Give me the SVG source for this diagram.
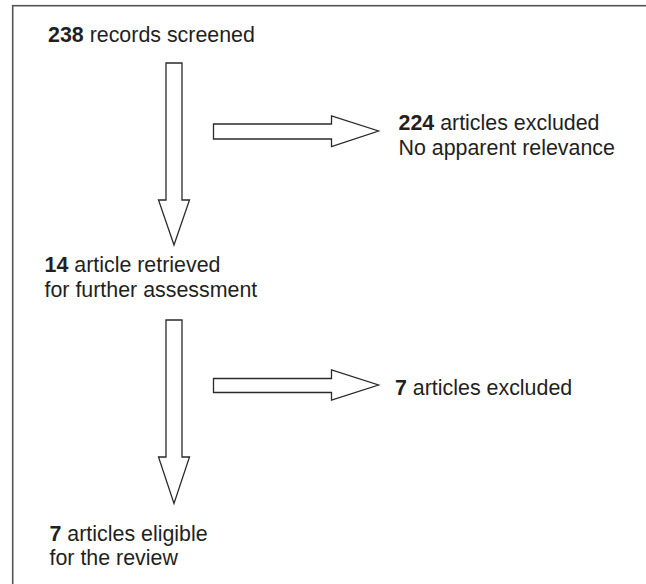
<svg xmlns="http://www.w3.org/2000/svg" width="646" height="584" viewBox="0 0 646 584">
<style>
.frame{fill:none;stroke:#555;stroke-width:1.6}
.arr{fill:#fff;stroke:#2a2a2a;stroke-width:1.3;stroke-linejoin:miter}
text{font-family:"Liberation Sans",Arial,sans-serif;font-size:21.4px;fill:#231f20}
.b{font-weight:bold}
</style>
<rect x="0" y="0" width="646" height="584" fill="#fff"/>
<rect class="frame" x="12.7" y="5.7" width="660" height="600"/>
<g id="connectors">
<polygon id="a1" class="arr" points="166,63 182,63 182,200 189.5,200 174,245 158.5,200 166,200"/>
<polygon id="a2" class="arr" points="213.5,124 331.5,124 331.5,116 378.5,131 331.5,146.5 331.5,139 213.5,139"/>
<polygon id="a3" class="arr" points="166,320 182,320 182,457 189.5,457 174,503.5 158.5,457 166,457"/>
<polygon id="a4" class="arr" points="213.5,378.5 331.5,378.5 331.5,370 378.5,385 331.5,400 331.5,392.5 213.5,392.5"/>
</g>
<g id="n1"><text x="48" y="41.7"><tspan class="b">238</tspan> records screened</text></g>
<g id="n2"><text x="398.5" y="130"><tspan class="b">224</tspan> articles excluded</text><text x="398.5" y="155">No apparent relevance</text></g>
<g id="n3"><text x="44.5" y="271.7"><tspan class="b">14</tspan> article retrieved</text><text x="44.5" y="297.3">for further assessment</text></g>
<g id="n4"><text x="395" y="395"><tspan class="b">7</tspan> articles excluded</text></g>
<g id="n5"><text x="49.5" y="540.7"><tspan class="b">7</tspan> articles eligible</text><text x="49.5" y="565">for the review</text></g>
</svg>
